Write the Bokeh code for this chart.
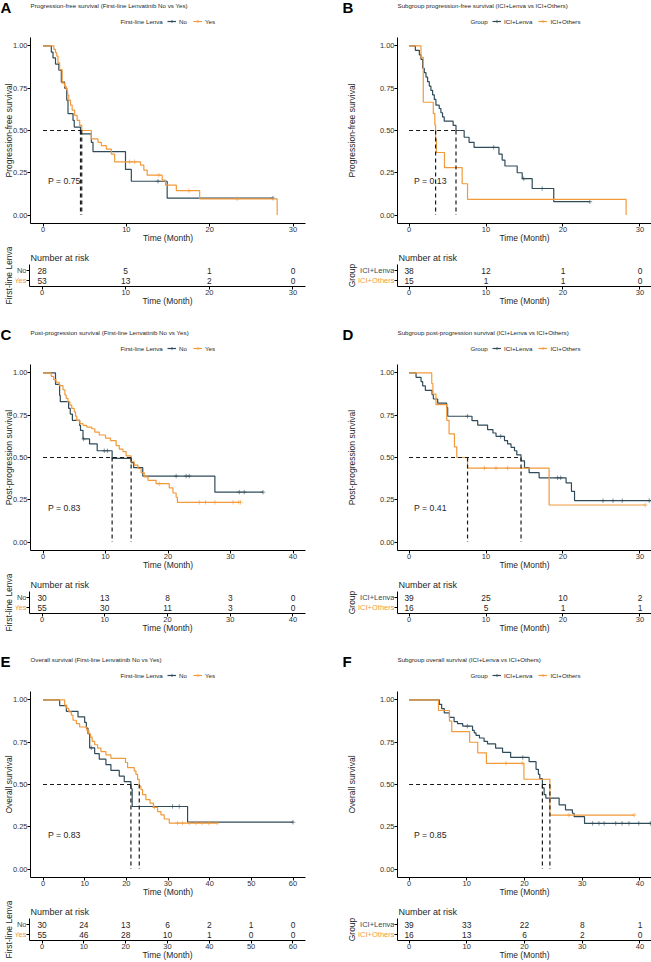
import numpy as np
from bokeh.plotting import figure
from bokeh.layouts import column, row
from bokeh.models import (Range1d, FixedTicker, Label, Legend, LegendItem, Spacer, NumeralTickFormatter,
                          CustomJSTickFormatter)
from bokeh.embed import file_html
from bokeh.resources import INLINE
from bokeh.core.properties import value

FONT = "Liberation Sans"
DARK = "#2F4B59"
ORANGE = "#F29A3A"
TXT = "#262626"

# ---------------- Panel A ----------------
A_title = "Progression-free survival (First-line Lenvatinib No vs Yes)"
A_ylabel = "Progression-free survival"
A_legend_title = "First-line Lenva"
A_groups = ["No", "Yes"]
A_g1_time = [1.0, 1.2, 1.5, 1.9, 2.2, 2.6, 2.85, 3.0, 3.6, 3.75, 4.5, 5.8, 6.0, 9.9, 10.6, 14.9]
A_g1_surv = [0.964, 0.929, 0.893, 0.857, 0.786, 0.75, 0.679, 0.60, 0.56, 0.52, 0.48, 0.43, 0.375, 0.27, 0.20, 0.10]
A_g1_end = 27.6
A_g1_cens = [13.8, 27.6]
A_g2_time = [1.3, 1.5, 1.65, 1.8, 2.0, 2.3, 2.6, 2.8, 2.95, 3.1, 3.3, 3.5, 3.8, 4.1, 4.4, 4.65, 5.8, 6.6, 7.0,
             7.6, 8.2, 8.6, 11.7, 12.1, 12.5, 14.3, 14.7, 16.0, 18.8, 28.1]
A_g2_surv = [0.98, 0.96, 0.94, 0.90, 0.86, 0.78, 0.76, 0.74, 0.71, 0.68, 0.65, 0.62, 0.59, 0.56, 0.53, 0.50, 0.45,
             0.43, 0.41, 0.39, 0.36, 0.315, 0.295, 0.266, 0.236, 0.207, 0.177, 0.144, 0.096, 0.0]
A_g2_end = 28.1
A_g2_cens = [10.4, 11.0, 13.9, 17.5, 23.3]
A_medians = [4.5, 4.65]
A_pval = "P = 0.75"
A_xmax = 30
A_xticks = [0, 10, 20, 30]
A_risk_time = [0, 10, 20, 30]
A_risk_g1 = [28, 5, 1, 0]
A_risk_g2 = [53, 13, 2, 0]

# ---------------- Panel B ----------------
B_title = "Subgroup progression-free survival (ICI+Lenva vs ICI+Others)"
B_ylabel = "Progression-free survival"
B_legend_title = "Group"
B_groups = ["ICI+Lenva", "ICI+Others"]
B_g1_time = [0.82, 1.34, 1.55, 1.77, 1.98, 2.2, 2.41, 2.63, 2.84, 3.06, 3.28, 3.49, 3.92, 4.14, 4.35, 4.57, 5.73,
             6.1, 7.16, 7.8, 8.45, 11.68, 12.1, 12.46, 14.05, 14.7, 16.0, 18.8]
B_g1_surv = [0.974, 0.947, 0.921, 0.868, 0.842, 0.816, 0.789, 0.763, 0.737, 0.711, 0.684, 0.65, 0.63, 0.605, 0.58,
             0.555, 0.53, 0.50, 0.46, 0.43, 0.40, 0.36, 0.325, 0.29, 0.25, 0.215, 0.157, 0.079]
B_g1_end = 23.5
B_g1_cens = [11.0, 14.9, 17.3, 23.5]
B_g2_time = [1.55, 1.85, 3.15, 3.35, 3.45, 3.55, 4.6, 6.9, 7.6, 28.2]
B_g2_surv = [0.933, 0.667, 0.60, 0.533, 0.45, 0.37, 0.28, 0.185, 0.093, 0.0]
B_g2_end = 28.2
B_g2_cens = []
B_medians = [3.45, 6.1]
B_pval = "P = 0.13"
B_xmax = 30
B_xticks = [0, 10, 20, 30]
B_risk_time = [0, 10, 20, 30]
B_risk_g1 = [38, 12, 1, 0]
B_risk_g2 = [15, 1, 1, 0]

# ---------------- Panel C ----------------
C_title = "Post-progression survival (First-line Lenvatinib No vs Yes)"
C_ylabel = "Post-progression survival"
C_legend_title = "First-line Lenva"
C_groups = ["No", "Yes"]
C_g1_time = [2.0, 2.66, 2.77, 4.1, 4.36, 4.7, 5.85, 6.0, 6.4, 7.45, 8.67, 11.06, 14.1, 14.5, 15.96, 27.5]
C_g1_surv = [0.933, 0.867, 0.83, 0.79, 0.757, 0.72, 0.69, 0.66, 0.61, 0.58, 0.54, 0.495, 0.47, 0.44, 0.39, 0.295]
C_g1_end = 35.2
C_g1_cens = [6.5, 9.8, 10.3, 21.3, 22.9, 23.4, 31.4, 32.2, 35.2]
C_g2_time = [1.3, 1.7, 2.1, 2.6, 3.2, 3.5, 3.7, 4.0, 4.3, 4.6, 5.0, 5.2, 5.4, 5.9, 6.4, 7.0, 7.8, 8.3, 9.0, 10.0,
             10.8, 11.7, 12.2, 12.8, 13.3, 14.1, 14.6, 15.2, 15.7, 16.2, 16.8, 18.1, 20.2, 20.8, 21.3, 21.5]
C_g2_surv = [0.98, 0.96, 0.945, 0.925, 0.90, 0.87, 0.85, 0.83, 0.81, 0.79, 0.77, 0.745, 0.72, 0.70, 0.69, 0.68,
             0.67, 0.65, 0.633, 0.615, 0.60, 0.57, 0.55, 0.535, 0.51, 0.475, 0.455, 0.435, 0.41, 0.385, 0.365,
             0.345, 0.32, 0.29, 0.265, 0.235]
C_g2_end = 31.6
C_g2_cens = [18.6, 25.0, 26.0, 27.5, 30.4, 31.3, 31.6]
C_medians = [11.06, 14.1]
C_pval = "P = 0.83"
C_xmax = 40
C_xticks = [0, 10, 20, 30, 40]
C_risk_time = [0, 10, 20, 30, 40]
C_risk_g1 = [30, 13, 8, 3, 0]
C_risk_g2 = [55, 30, 11, 3, 0]

# ---------------- Panel D ----------------
D_title = "Subgroup post-progression survival (ICI+Lenva vs ICI+Others)"
D_ylabel = "Post-progression survival"
D_legend_title = "Group"
D_groups = ["ICI+Lenva", "ICI+Others"]
D_g1_time = [0.91, 1.56, 1.77, 2.12, 2.99, 3.16, 3.72, 4.89, 5.02, 8.18, 8.92, 10.2, 10.9, 11.3, 12.4, 12.8,
             13.25, 13.7, 14.0, 14.55, 15.0, 15.6, 16.9, 20.4, 21.1, 21.5]
D_g1_surv = [0.974, 0.949, 0.923, 0.897, 0.872, 0.846, 0.821, 0.795, 0.744, 0.718, 0.692, 0.665, 0.645, 0.625,
             0.60, 0.58, 0.56, 0.54, 0.515, 0.48, 0.44, 0.41, 0.38, 0.35, 0.30, 0.245]
D_g1_end = 31.5
D_g1_cens = [7.6, 11.9, 19.3, 19.7, 25.2, 26.5, 27.7, 31.2]
D_g2_time = [2.95, 3.1, 3.5, 4.9, 5.2, 5.9, 6.2, 7.6, 18.2]
D_g2_surv = [0.9375, 0.875, 0.8125, 0.72, 0.64, 0.5625, 0.50, 0.4375, 0.219]
D_g2_end = 30.7
D_g2_cens = [9.8, 11.3, 12.8, 30.7]
D_medians = [7.6, 14.55]
D_pval = "P = 0.41"
D_xmax = 30
D_xticks = [0, 10, 20, 30]
D_risk_time = [0, 10, 20, 30]
D_risk_g1 = [39, 25, 10, 2]
D_risk_g2 = [16, 5, 1, 1]

# ---------------- Panel E ----------------
E_title = "Overall survival (First-line Lenvatinib No vs Yes)"
E_ylabel = "Overall survival"
E_legend_title = "First-line Lenva"
E_groups = ["No", "Yes"]
E_g1_time = [4.0, 5.6, 8.4, 10.0, 10.4, 10.8, 11.2, 12.4, 13.5, 15.1, 16.3, 18.3, 19.5, 21.1, 21.4, 34.7]
E_g1_surv = [0.967, 0.933, 0.90, 0.867, 0.833, 0.80, 0.717, 0.683, 0.65, 0.617, 0.583, 0.55, 0.517, 0.475, 0.37,
             0.277]
E_g1_end = 60.0
E_g1_cens = [11.6, 31.1, 32.7, 60.0]
E_g2_time = [5.2, 5.7, 6.2, 6.8, 7.2, 8.0, 8.8, 10.5, 11.0, 11.4, 11.8, 12.4, 13.1, 13.9, 15.1, 16.3, 19.8, 20.3,
             21.9, 22.3, 22.7, 23.1, 23.5, 23.9, 24.7, 25.7, 26.5, 27.5, 28.3, 29.1, 30.3]
E_g2_surv = [0.97, 0.95, 0.93, 0.91, 0.88, 0.86, 0.84, 0.82, 0.80, 0.78, 0.755, 0.735, 0.715, 0.695, 0.675, 0.655,
             0.63, 0.60, 0.58, 0.56, 0.53, 0.49, 0.47, 0.44, 0.41, 0.39, 0.365, 0.34, 0.32, 0.296, 0.272]
E_g2_end = 41.8
E_g2_cens = [26.7, 32.3, 33.5, 35.1, 36.7, 38.2, 39.8, 41.8]
E_medians = [21.1, 23.1]
E_pval = "P = 0.83"
E_xmax = 60
E_xticks = [0, 10, 20, 30, 40, 50, 60]
E_risk_time = [0, 10, 20, 30, 40, 50, 60]
E_risk_g1 = [30, 24, 13, 6, 2, 1, 0]
E_risk_g2 = [55, 46, 28, 10, 1, 0, 0]

# ---------------- Panel F ----------------
F_title = "Subgroup overall survival (ICI+Lenva vs ICI+Others)"
F_ylabel = "Overall survival"
F_legend_title = "Group"
F_groups = ["ICI+Lenva", "ICI+Others"]
F_g1_time = [5.24, 5.65, 6.1, 7.0, 7.8, 8.4, 9.3, 11.0, 11.3, 11.6, 12.2, 13.0, 13.6, 15.0, 16.2, 17.6, 20.8,
             22.0, 22.4, 22.65, 23.1, 23.4, 23.7, 26.0, 27.1, 28.3, 28.6, 30.4]
F_g1_surv = [0.974, 0.949, 0.923, 0.897, 0.872, 0.86, 0.845, 0.82, 0.805, 0.79, 0.775, 0.755, 0.74, 0.715, 0.69,
             0.66, 0.635, 0.59, 0.56, 0.535, 0.48, 0.44, 0.42, 0.38, 0.35, 0.33, 0.31, 0.27]
F_g1_end = 42.0
F_g1_cens = [10.1, 19.7, 31.8, 32.9, 33.8, 35.8, 36.9, 38.1, 39.8, 41.8]
F_g2_time = [5.1, 7.0, 7.4, 10.5, 11.9, 13.4, 19.9, 24.4]
F_g2_surv = [0.9375, 0.875, 0.8125, 0.75, 0.6875, 0.625, 0.531, 0.319]
F_g2_end = 39.0
F_g2_cens = [16.8, 19.6, 27.7, 39.0]
F_medians = [23.1, 24.4]
F_pval = "P = 0.85"
F_xmax = 40
F_xticks = [0, 10, 20, 30, 40]
F_risk_time = [0, 10, 20, 30, 40]
F_risk_g1 = [39, 33, 22, 8, 1]
F_risk_g2 = [16, 13, 6, 2, 0]


def km_xy(times, surv, end):
    xs = [0.0] + list(times)
    ys = [1.0] + list(surv)
    if end > xs[-1]:
        xs.append(end)
        ys.append(ys[-1])
    return xs, ys


def surv_at(times, surv, ts):
    t = np.asarray(times, dtype=float)
    s = np.asarray(surv, dtype=float)
    idx = np.searchsorted(t, np.asarray(ts, dtype=float), side="right") - 1
    return [1.0 if i < 0 else float(s[i]) for i in idx]


def style(fig):
    fig.outline_line_color = None
    fig.xgrid.visible = False
    fig.ygrid.visible = False
    fig.background_fill_color = "white"
    fig.border_fill_color = "white"
    for ax in fig.axis:
        ax.axis_line_color = "black"
        ax.axis_line_width = 1
        ax.major_tick_line_color = "black"
        ax.major_tick_out = 3
        ax.major_tick_in = 0
        ax.minor_tick_line_color = None
        ax.major_label_text_font = FONT
        ax.major_label_text_font_size = "7.5px"
        ax.major_label_text_color = "#333333"
        ax.major_label_standoff = 0
        ax.axis_label_text_font = FONT
        ax.axis_label_text_font_size = "8.5px"
        ax.axis_label_text_font_style = "normal"
        ax.axis_label_text_color = TXT
        ax.axis_label_standoff = 0


HEAD_H = 35
MAIN_H = 212
RISK_H = 61
RISK_TOP = 17
RISK_BOTTOM = 22


def make_panel(letter, title, ylabel, leg_title, names, g1, g2, medians, pval,
               risk_t, risk1, risk2, xmax, xticks, side):
    if side == "left":
        W, bl, br = 325, 29, 20
        letter_x, title_x, legtitle_x = 0, 30, 120
        ylab_st = -4
        lab_w, lab_border, lab_st = 26, 12, 2
    else:
        W, bl, br = 326, 72, 0
        letter_x, title_x, legtitle_x = 17, 72, 145
        ylab_st = 20
        lab_w, lab_border, lab_st = 69, 32, 1
    x0, x1 = -0.05 * xmax, 1.05 * xmax
    curves = []
    for (times, surv, end, cens) in [g1, g2]:
        xs, ys = km_xy(times, surv, end)
        curves.append((xs, ys, list(cens), surv_at(times, surv, cens)))

    # ---- header: panel letter, title, legend ----
    h = figure(width=W, height=HEAD_H, x_range=Range1d(0, W), y_range=Range1d(0, HEAD_H), min_border=0,
               x_axis_location=None, y_axis_location=None, output_backend="svg", toolbar_location=None,
               title=None)
    h.outline_line_color = None
    h.xgrid.visible = False
    h.ygrid.visible = False
    h.extra_y_ranges = {"hidden": Range1d(5, 6)}
    h.add_layout(Label(x=letter_x, y=HEAD_H - 7.2, text=letter, text_font=FONT, text_font_size="15px",
                       text_font_style="bold", text_baseline="middle", text_color="black"))
    h.add_layout(Label(x=title_x, y=HEAD_H - 5, text=title, text_font=FONT, text_font_size="6.2px",
                       text_baseline="middle", text_color=TXT))
    h.add_layout(Label(x=legtitle_x, y=HEAD_H - 21, text=leg_title, text_font=FONT, text_font_size="6.2px",
                       text_baseline="middle", text_color=TXT))
    items = []
    for nm, col, (xs, ys, cx, cy) in zip(names, [DARK, ORANGE], curves):
        # same series drawn on a hidden range: only used for legend keys
        hl = h.line(x=xs, y=ys, line_color=col, line_width=1.2, y_range_name="hidden")
        hc = h.scatter(x=xs[:1], y=ys[:1], marker="cross", size=4.5, line_color=col, line_width=0.7,
                       y_range_name="hidden")
        items.append(LegendItem(label=nm, renderers=[hl, hc]))
    leg = Legend(items=items, orientation="horizontal", location=(167, HEAD_H - 21 - 4), margin=0, padding=0,
                 spacing=6, glyph_width=9, glyph_height=8, label_height=8, label_width=0, label_standoff=3,
                 label_text_font=FONT, label_text_font_size="6.2px", label_text_color=TXT,
                 border_line_color=None, background_fill_alpha=0)
    h.add_layout(leg)

    # ---- main KM plot ----
    p = figure(width=W, height=MAIN_H, x_range=Range1d(x0, x1), y_range=Range1d(-0.05, 1.05),
               output_backend="svg", toolbar_location=None, title=None,
               min_border_left=bl, min_border_right=br, min_border_top=2, min_border_bottom=24)
    style(p)
    p.xaxis.ticker = FixedTicker(ticks=xticks)
    p.yaxis.ticker = FixedTicker(ticks=[0, 0.25, 0.5, 0.75, 1.0])
    p.yaxis.formatter = NumeralTickFormatter(format="0.00")
    p.xaxis.axis_label = "Time (Month)"
    p.xaxis.axis_label_standoff = -2
    p.yaxis.axis_label = ylabel
    p.yaxis.axis_label_standoff = ylab_st

    for col, (xs, ys, cx, cy) in zip([DARK, ORANGE], curves):
        p.step(x=xs, y=ys, mode="after", line_color=col, line_width=1.2)
        p.scatter(x=cx, y=cy, marker="cross", size=4.5, line_color=col, line_width=0.7, line_alpha=0.85)

    mmax = max(medians)
    p.segment(x0=[0], y0=[0.5], x1=[mmax], y1=[0.5], line_color="#1a1a1a", line_width=1.2, line_dash="4 3")
    p.segment(x0=medians, y0=[0.5] * len(medians), x1=medians, y1=[0] * len(medians),
              line_color="#1a1a1a", line_width=1.2, line_dash="4 3")
    p.add_layout(Label(x=0, y=0.2, x_offset=5, text=pval, text_font=FONT, text_font_size="8.7px",
                       text_baseline="middle", text_color=TXT))

    # ---- risk table: label strip + table ----
    lab = figure(width=lab_w, height=RISK_H, x_range=Range1d(0, 1),
                 y_range=Range1d(0.4, 2.6), x_axis_location=None, output_backend="svg", toolbar_location=None,
                 title=None, min_border_left=lab_border, min_border_right=0, min_border_top=RISK_TOP,
                 min_border_bottom=RISK_BOTTOM)
    lab.outline_line_color = None
    lab.xgrid.visible = False
    lab.ygrid.visible = False
    lab.yaxis.axis_line_color = None
    lab.yaxis.major_tick_line_color = None
    lab.yaxis.minor_tick_line_color = None
    lab.yaxis.major_tick_out = 0
    lab.yaxis.major_tick_in = 0
    lab.yaxis.ticker = FixedTicker(ticks=[])
    lab.yaxis.axis_label = leg_title
    lab.yaxis.axis_label_text_font = FONT
    lab.yaxis.axis_label_text_font_size = "8.5px"
    lab.yaxis.axis_label_text_font_style = "normal"
    lab.yaxis.axis_label_text_color = TXT
    lab.yaxis.axis_label_standoff = lab_st
    lab.text(x=[1, 1], y=[2, 1], text=list(names), text_align="right", text_baseline="middle",
             text_font=value(FONT), text_font_size=value("7.5px"), text_color=[DARK, ORANGE])

    r = figure(width=W - lab_w, height=RISK_H, x_range=Range1d(x0, x1), y_range=Range1d(0.4, 2.6),
               output_backend="svg", toolbar_location=None,
               min_border_left=3, min_border_right=br, min_border_top=RISK_TOP, min_border_bottom=RISK_BOTTOM)
    style(r)
    r.title.text = "Number at risk"
    r.title.align = "left"
    r.title.offset = 1
    r.title.standoff = 4
    r.title.text_font = FONT
    r.title.text_font_size = "9px"
    r.title.text_font_style = "normal"
    r.title.text_color = TXT
    r.xaxis.ticker = FixedTicker(ticks=xticks)
    r.xaxis.axis_label = "Time (Month)"
    r.xaxis.axis_label_standoff = -2
    r.yaxis.ticker = FixedTicker(ticks=[1, 2])
    r.yaxis.formatter = CustomJSTickFormatter(code="return ''")
    n = len(risk_t)
    r.text(x=list(risk_t) * 2, y=[2] * n + [1] * n, text=[str(v) for v in list(risk1) + list(risk2)],
           text_align="center", text_baseline="middle", text_font=value(FONT),
           text_font_size=value("8.4px"), text_color=TXT)

    return column(row(h), row(p), row(lab, r))


pA = make_panel("A", A_title, A_ylabel, A_legend_title, A_groups,
                (A_g1_time, A_g1_surv, A_g1_end, A_g1_cens), (A_g2_time, A_g2_surv, A_g2_end, A_g2_cens),
                A_medians, A_pval, A_risk_time, A_risk_g1, A_risk_g2, A_xmax, A_xticks, "left")
pB = make_panel("B", B_title, B_ylabel, B_legend_title, B_groups,
                (B_g1_time, B_g1_surv, B_g1_end, B_g1_cens), (B_g2_time, B_g2_surv, B_g2_end, B_g2_cens),
                B_medians, B_pval, B_risk_time, B_risk_g1, B_risk_g2, B_xmax, B_xticks, "right")
pC = make_panel("C", C_title, C_ylabel, C_legend_title, C_groups,
                (C_g1_time, C_g1_surv, C_g1_end, C_g1_cens), (C_g2_time, C_g2_surv, C_g2_end, C_g2_cens),
                C_medians, C_pval, C_risk_time, C_risk_g1, C_risk_g2, C_xmax, C_xticks, "left")
pD = make_panel("D", D_title, D_ylabel, D_legend_title, D_groups,
                (D_g1_time, D_g1_surv, D_g1_end, D_g1_cens), (D_g2_time, D_g2_surv, D_g2_end, D_g2_cens),
                D_medians, D_pval, D_risk_time, D_risk_g1, D_risk_g2, D_xmax, D_xticks, "right")
pE = make_panel("E", E_title, E_ylabel, E_legend_title, E_groups,
                (E_g1_time, E_g1_surv, E_g1_end, E_g1_cens), (E_g2_time, E_g2_surv, E_g2_end, E_g2_cens),
                E_medians, E_pval, E_risk_time, E_risk_g1, E_risk_g2, E_xmax, E_xticks, "left")
pF = make_panel("F", F_title, F_ylabel, F_legend_title, F_groups,
                (F_g1_time, F_g1_surv, F_g1_end, F_g1_cens), (F_g2_time, F_g2_surv, F_g2_end, F_g2_cens),
                F_medians, F_pval, F_risk_time, F_risk_g1, F_risk_g2, F_xmax, F_xticks, "right")

layout = column(row(pA, pB), Spacer(width=651, height=19), row(pC, pD), Spacer(width=651, height=19),
                row(pE, pF))

open("out.html", "w").write(file_html(layout, INLINE))
